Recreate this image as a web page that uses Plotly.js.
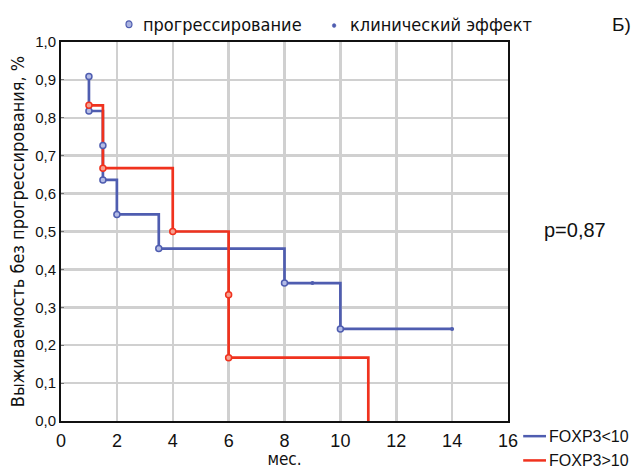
<!DOCTYPE html>
<html>
<head>
<meta charset="utf-8">
<script src="https://cdn.plot.ly/plotly-3.0.1.min.js"></script>
<style>html,body{margin:0;padding:0;background:#fff;}#chart{width:633px;height:469px;}</style>
</head>
<body>
<div id="chart"></div>
<script>
// Step curve points (time in months, survival fraction)
const lowX = [1, 1, 1.5, 1.5, 2, 3.5, 8, 10, 14];
const lowY = [0.909, 0.818, 0.818, 0.636, 0.545, 0.455, 0.364, 0.243, 0.243];
const highX = [1, 1.5, 4, 6, 11];
const highY = [0.833, 0.667, 0.5, 0.167, 0];

// Event markers (progression)
const lowProgX = [1, 1, 1.5, 1.5, 2, 3.5, 8, 10];
const lowProgY = [0.909, 0.818, 0.727, 0.636, 0.545, 0.455, 0.364, 0.243];
const highProgX = [1, 1.5, 4, 6, 6];
const highProgY = [0.833, 0.667, 0.5, 0.333, 0.167];
// Clinical effect markers (censored)
const lowCensX = [9, 14];
const lowCensY = [0.364, 0.243];

const xTicks = [0, 2, 4, 6, 8, 10, 12, 14, 16];
const yTicks = [0, 0.1, 0.2, 0.3, 0.4, 0.5, 0.6, 0.7, 0.8, 0.9, 1.0];

const BLUE = '#4f5db0';
const RED = '#f0321e';
const NARROW = '"Liberation Sans Narrow", "Arial Narrow", "DejaVu Sans Condensed", sans-serif';

const traces = [
  {x: lowX, y: lowY, mode: 'lines', line: {shape: 'hv', color: BLUE, width: 2.7}, name: 'FOXP3<10', showlegend: false},
  {x: highX, y: highY, mode: 'lines', line: {shape: 'hv', color: RED, width: 2.7}, name: 'FOXP3>10', showlegend: false},
  {x: lowProgX, y: lowProgY, mode: 'markers', marker: {symbol: 'circle', size: 6, color: '#b4bce6', line: {color: BLUE, width: 1.5}}, showlegend: false},
  {x: highProgX, y: highProgY, mode: 'markers', marker: {symbol: 'circle', size: 6, color: '#f7a090', line: {color: RED, width: 1.5}}, showlegend: false},
  {x: lowCensX, y: lowCensY, mode: 'markers', marker: {symbol: 'circle', size: 4, color: BLUE}, showlegend: false}
];

const layout = {
  width: 633, height: 469,
  margin: {l: 61, r: 125, t: 42, b: 48},
  paper_bgcolor: '#fff', plot_bgcolor: '#fff',
  separators: ', ',
  font: {family: 'Liberation Sans, Arial, sans-serif', color: '#111'},
  showlegend: false,
  xaxis: {
    range: [0, 16], tickvals: xTicks, ticktext: xTicks.map(String),
    showgrid: true, gridcolor: '#d0d0d0', gridwidth: 2.5,
    showline: true, mirror: true, linecolor: '#111', linewidth: 2,
    ticks: '', zeroline: false, ticklabelstandoff: 2,
    tickfont: {size: 18, color: '#111'},
    title: {text: 'мес.', font: {size: 17, family: NARROW, color: '#111'}, standoff: 3}
  },
  yaxis: {
    range: [0, 1], tickvals: yTicks, tickformat: '.1f',
    showgrid: true, gridcolor: '#d0d0d0', gridwidth: 2.5,
    showline: true, mirror: true, linecolor: '#111', linewidth: 2,
    ticks: 'inside', ticklen: 3, tickcolor: '#777', zeroline: false,
    tickfont: {size: 15, color: '#111'},
    title: {text: 'Выживаемость без прогрессирования, %', font: {size: 18, family: NARROW, color: '#111'}, standoff: 6}
  },
  shapes: [
    {type: 'circle', xref: 'paper', yref: 'paper', x0: 0.1454, x1: 0.1588, y0: 1.038, y1: 1.056, fillcolor: '#aab3e0', line: {color: BLUE, width: 1.2}},
    {type: 'circle', xref: 'paper', yref: 'paper', x0: 0.6070, x1: 0.6150, y0: 1.038, y1: 1.0485, fillcolor: BLUE, line: {color: BLUE, width: 0.5}},
    {type: 'line', xref: 'paper', yref: 'paper', x0: 1.034, x1: 1.085, y0: -0.040, y1: -0.040, line: {color: BLUE, width: 2.5}},
    {type: 'line', xref: 'paper', yref: 'paper', x0: 1.034, x1: 1.085, y0: -0.104, y1: -0.104, line: {color: RED, width: 2.5}}
  ],
  annotations: [
    {xref: 'paper', yref: 'paper', x: 0.179, y: 1.046, xanchor: 'left', yanchor: 'middle', showarrow: false, text: 'прогрессирование', font: {size: 18, family: NARROW, color: '#111'}},
    {xref: 'paper', yref: 'paper', x: 0.641, y: 1.046, xanchor: 'left', yanchor: 'middle', showarrow: false, text: 'клинический эффект', font: {size: 18, family: NARROW, color: '#111'}},
    {xref: 'paper', yref: 'paper', x: 1.229, y: 1.046, xanchor: 'left', yanchor: 'middle', showarrow: false, text: 'Б)', font: {size: 19, color: '#111'}},
    {xref: 'paper', yref: 'paper', x: 1.076, y: 0.505, xanchor: 'left', yanchor: 'middle', showarrow: false, text: 'p=0,87', font: {size: 20, color: '#111'}},
    {xref: 'paper', yref: 'paper', x: 1.088, y: -0.040, xanchor: 'left', yanchor: 'middle', showarrow: false, text: 'FOXP3<10', font: {size: 16, color: '#111'}},
    {xref: 'paper', yref: 'paper', x: 1.088, y: -0.104, xanchor: 'left', yanchor: 'middle', showarrow: false, text: 'FOXP3>10', font: {size: 16, color: '#111'}}
  ]
};

Plotly.newPlot('chart', traces, layout, {displayModeBar: false, staticPlot: true});
</script>
</body>
</html>
